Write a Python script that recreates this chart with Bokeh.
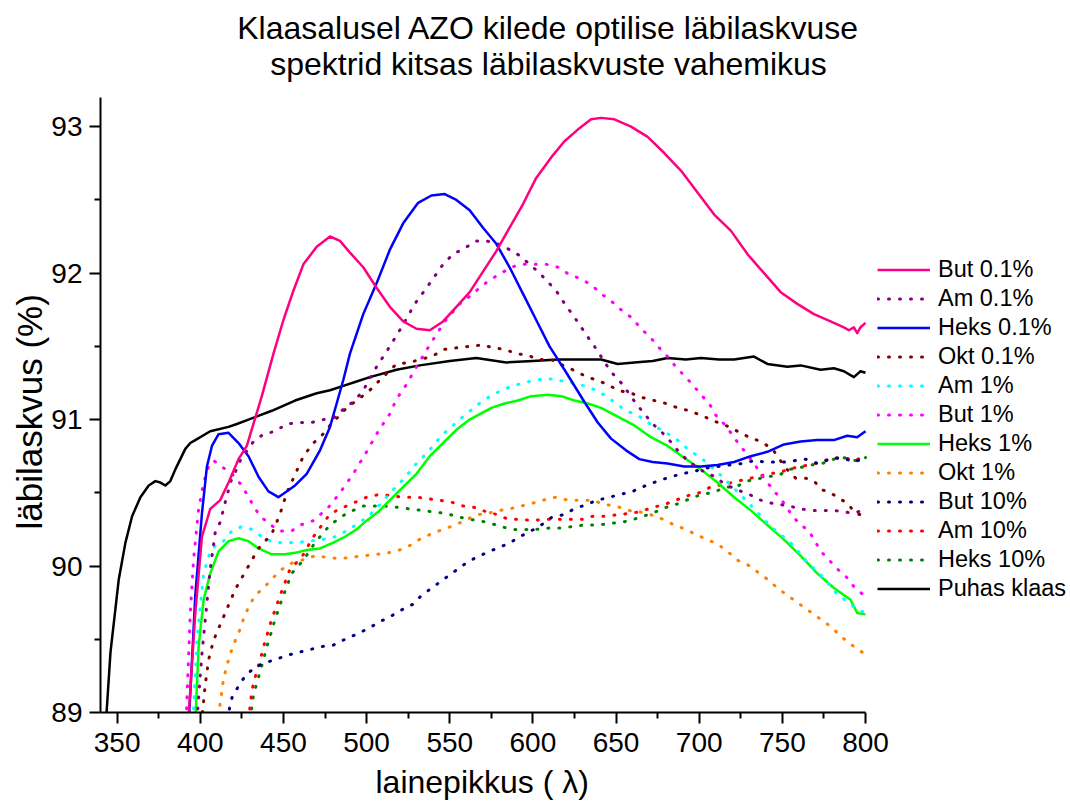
from bokeh.plotting import figure
from bokeh.models import Legend, LegendItem, Title, Label, FixedTicker, Range1d
from bokeh.embed import file_html
from bokeh.resources import INLINE

# ---------------- data ----------------
series_names = ["But 0.1%", "Am 0.1%", "Heks 0.1%", "Okt 0.1%", "Am 1%", "But 1%",
                "Heks 1%", "Okt 1%", "But 10%", "Am 10%", "Heks 10%", "Puhas klaas"]

but01_x = [392, 397, 401, 406, 412, 417, 423, 428, 433, 437, 444, 450, 456, 462, 470, 478, 484, 490, 498, 506,
           514, 522, 530, 538, 546, 554, 562, 570, 578, 586, 594, 602, 611, 619, 627, 635, 641, 649, 659, 669,
           679, 689, 699, 709, 719, 729, 739, 749, 759, 769, 779, 787, 790, 793, 795, 797, 800]
but01_y = [88.8, 89.68, 90.2, 90.39, 90.45, 90.57, 90.73, 90.82, 91.01, 91.16, 91.45, 91.68, 91.88, 92.06, 92.18, 92.25, 92.22, 92.14, 92.04, 91.9,
           91.77, 91.67, 91.62, 91.61, 91.67, 91.77, 91.87, 92.01, 92.15, 92.31, 92.47, 92.65, 92.79, 92.9, 92.98, 93.05, 93.06, 93.05, 93.0, 92.93,
           92.82, 92.7, 92.55, 92.4, 92.29, 92.13, 92.0, 91.87, 91.79, 91.72, 91.67, 91.63, 91.61, 91.63, 91.59, 91.63, 91.66]

am01_x = [397, 401, 404, 406, 409, 412, 414, 416, 419, 421, 424, 432, 438, 445, 452, 460, 467, 474, 480, 487,
          493, 498, 506, 514, 521, 529, 538, 546, 552, 559, 566, 572, 579, 586, 592, 598, 604, 609, 614, 618,
          623, 628, 632, 637, 641, 645, 649, 654, 657, 662, 667, 672, 677, 682, 687, 693, 699, 705, 710, 715,
          723, 730, 737, 743, 749, 754, 761, 768, 775, 781, 787, 793, 800]
am01_y = [88.8, 89.4, 89.75, 89.98, 90.23, 90.3, 90.39, 90.48, 90.6, 90.64, 90.72, 90.85, 90.9, 90.92, 90.97, 90.98, 90.98, 91.0, 91.01, 91.08,
          91.13, 91.2, 91.36, 91.5, 91.63, 91.79, 91.93, 92.06, 92.13, 92.17, 92.22, 92.22, 92.2, 92.16, 92.12, 92.06, 92.0, 91.94, 91.88, 91.81,
          91.73, 91.65, 91.58, 91.5, 91.43, 91.36, 91.30, 91.24, 91.19, 91.11, 91.04, 90.97, 90.92, 90.86, 90.79, 90.72, 90.67, 90.63, 90.61, 90.56,
          90.52, 90.49, 90.45, 90.43, 90.42, 90.41, 90.39, 90.38, 90.38, 90.38, 90.37, 90.36, 90.39]

heks01_x = [392.5, 397, 401, 404, 407, 411, 417, 423, 429, 435, 441, 447, 457, 464, 472, 478, 482, 486, 490, 498,
            506, 514, 522, 531, 539, 547, 554, 562, 570, 578, 586, 594, 602, 610, 619, 631, 639, 647, 656, 664,
            672, 681, 691, 701, 711, 721, 731, 741, 751, 761, 771, 781, 789, 795, 800]
heks01_y = [88.8, 89.8, 90.36, 90.68, 90.82, 90.9, 90.91, 90.84, 90.75, 90.61, 90.51, 90.47, 90.55, 90.63, 90.79, 90.95, 91.11, 91.27, 91.45, 91.72,
            91.93, 92.16, 92.34, 92.48, 92.53, 92.54, 92.5, 92.43, 92.31, 92.2, 92.04, 91.86, 91.68, 91.5, 91.34, 91.12, 90.98, 90.87, 90.79, 90.73,
            90.71, 90.70, 90.68, 90.68, 90.69, 90.71, 90.75, 90.78, 90.83, 90.85, 90.86, 90.86, 90.89, 90.88, 90.92]

okt01_x = [400, 403, 405, 407, 409, 412, 415, 418, 421, 425, 435, 443, 446, 449, 452, 456, 462, 468, 473, 478,
           483, 488, 494, 501, 508, 518, 526, 532, 539, 547, 554, 562, 570, 576, 583, 590, 597, 603, 611, 618,
           624, 631, 638, 645, 651, 659, 666, 673, 680, 687, 694, 701, 709, 716, 723, 730, 737, 744, 747, 752,
           758, 764, 769, 774, 779, 783, 789, 794, 800]
okt01_y = [88.85, 89.19, 89.36, 89.45, 89.52, 89.6, 89.68, 89.76, 89.84, 89.92, 90.12, 90.22, 90.3, 90.39, 90.5, 90.6, 90.75, 90.84, 90.89, 90.96,
           91.02, 91.08, 91.13, 91.19, 91.27, 91.38, 91.39, 91.41, 91.43, 91.48, 91.49, 91.5, 91.51, 91.49, 91.48, 91.45, 91.44, 91.41, 91.41, 91.37,
           91.34, 91.30, 91.27, 91.24, 91.20, 91.18, 91.15, 91.13, 91.11, 91.08, 91.06, 91.03, 90.99, 90.96, 90.92, 90.88, 90.85, 90.8, 90.75, 90.67,
           90.6, 90.6, 90.58, 90.52, 90.5, 90.47, 90.43, 90.36, 90.34]

am1_x = [395, 398, 402, 406, 410, 414, 419, 425, 431, 437, 444, 451, 458, 465, 473, 481, 488, 495, 502, 508,
         515, 522, 530, 537, 545, 552, 558, 570, 581, 588, 601, 609, 615, 624, 631, 638, 644, 650, 656, 663,
         669, 674, 680, 686, 692, 698, 703, 713, 721, 729, 743, 755, 764, 774, 782, 794, 800]
am1_y = [88.8, 89.5, 89.95, 90.1, 90.15, 90.17, 90.24, 90.27, 90.25, 90.2, 90.16, 90.16, 90.16, 90.17, 90.18, 90.2, 90.24, 90.29, 90.35, 90.42,
         90.51, 90.59, 90.7, 90.78, 90.89, 90.96, 91.02, 91.13, 91.2, 91.23, 91.27, 91.28, 91.27, 91.25, 91.23, 91.2, 91.16, 91.11, 91.06, 91.03,
         90.98, 90.95, 90.91, 90.87, 90.81, 90.76, 90.72, 90.62, 90.53, 90.44, 90.27, 90.16, 90.04, 89.93, 89.82, 89.71, 89.68]

but1_x = [391, 394, 396, 399, 402, 405, 408, 414, 419, 425, 432, 436, 447, 455, 460, 468, 477, 484, 492, 500,
          507, 514, 518, 524, 530, 538, 547, 556, 563, 569, 575, 581, 587, 593, 599, 608, 615, 622, 629, 635,
          641, 647, 653, 660, 665, 670, 676, 681, 686, 691, 696, 701, 706, 710, 715, 719, 724, 729, 733, 737,
          741, 746, 751, 755, 760, 766, 770, 774, 779, 784, 789, 793, 800]
but1_y = [88.8, 89.68, 90.05, 90.39, 90.57, 90.68, 90.72, 90.67, 90.63, 90.55, 90.41, 90.34, 90.24, 90.24, 90.28, 90.31, 90.4, 90.5, 90.63, 90.78,
          90.92, 91.04, 91.14, 91.24, 91.36, 91.51, 91.67, 91.79, 91.85, 91.91, 91.96, 92.0, 92.04, 92.06, 92.06, 92.06, 92.04, 91.99, 91.96, 91.92,
          91.86, 91.81, 91.75, 91.69, 91.62, 91.57, 91.49, 91.43, 91.36, 91.30, 91.24, 91.17, 91.11, 91.03, 90.97, 90.91, 90.83, 90.76, 90.70, 90.63,
          90.57, 90.5, 90.43, 90.36, 90.29, 90.24, 90.16, 90.09, 90.03, 89.97, 89.92, 89.86, 89.79]

heks1_x = [396.5, 399, 402, 406, 411, 417, 423, 429, 435, 443, 451, 457, 464, 472, 480, 487, 494, 500, 507, 514,
           522, 530, 538, 546, 554, 562, 567, 575, 583, 591, 599, 609, 617, 625, 633, 641, 651, 661, 671, 681,
           691, 701, 711, 721, 731, 741, 751, 761, 771, 781, 791, 795, 800]
heks1_y = [88.8, 89.45, 89.77, 89.95, 90.1, 90.17, 90.19, 90.17, 90.12, 90.08, 90.08, 90.09, 90.11, 90.12, 90.16, 90.2, 90.25, 90.31, 90.37, 90.45,
           90.54, 90.63, 90.75, 90.84, 90.93, 91.0, 91.03, 91.08, 91.11, 91.13, 91.16, 91.17, 91.16, 91.13, 91.11, 91.08, 91.02, 90.96, 90.88, 90.82,
           90.74, 90.66, 90.57, 90.47, 90.38, 90.28, 90.18, 90.07, 89.95, 89.85, 89.77, 89.68, 89.67]

okt1_x = [410, 414, 416, 418, 421, 424, 426, 429, 433, 438, 443, 448, 455, 461, 469, 476, 484, 491, 498, 506,
          513, 520, 526, 533, 539, 546, 553, 559, 566, 573, 580, 586, 593, 600, 606, 614, 621, 628, 636, 643,
          650, 657, 664, 671, 678, 685, 692, 699, 705, 711, 717, 723, 729, 735, 741, 747, 753, 758, 764, 769,
          775, 780, 785, 791, 795, 800]
okt1_y = [88.9, 89.23, 89.32, 89.4, 89.49, 89.57, 89.64, 89.72, 89.8, 89.85, 89.91, 89.97, 90.02, 90.04, 90.07, 90.06, 90.05, 90.06, 90.07, 90.08,
          90.09, 90.11, 90.14, 90.19, 90.22, 90.25, 90.28, 90.31, 90.35, 90.36, 90.38, 90.39, 90.41, 90.43, 90.45, 90.47, 90.45, 90.45, 90.45, 90.42,
          90.41, 90.38, 90.37, 90.35, 90.32, 90.28, 90.25, 90.21, 90.18, 90.15, 90.10, 90.04, 90.01, 89.96, 89.91, 89.85, 89.80, 89.76, 89.71, 89.67,
          89.62, 89.58, 89.52, 89.47, 89.43, 89.40]

but10_x = [416, 419, 423, 427, 433, 439, 445, 452, 459, 466, 473, 480, 487, 495, 502, 508, 515, 521, 528, 533,
           538, 544, 550, 555, 561, 568, 574, 580, 585, 592, 599, 605, 611, 618, 625, 632, 639, 646, 653, 660,
           668, 675, 683, 690, 698, 705, 718, 726, 733, 740, 751, 764, 771, 779, 786, 793, 800]
but10_y = [88.95, 89.1, 89.18, 89.25, 89.31, 89.34, 89.36, 89.39, 89.41, 89.43, 89.45, 89.46, 89.50, 89.54, 89.58, 89.62, 89.66, 89.7, 89.74, 89.8,
           89.84, 89.89, 89.94, 89.98, 90.03, 90.07, 90.1, 90.13, 90.15, 90.2, 90.24, 90.28, 90.33, 90.35, 90.39, 90.42, 90.45, 90.47, 90.49, 90.51,
           90.55, 90.58, 90.61, 90.63, 90.65, 90.67, 90.69, 90.70, 90.72, 90.71, 90.71, 90.73, 90.70, 90.73, 90.74, 90.71, 90.74]

am10_x = [429, 431, 433, 437, 439, 441, 443, 445, 448, 451, 454, 461, 468, 477, 482, 488, 500, 508, 515, 522,
          530, 537, 543, 550, 558, 565, 572, 579, 585, 592, 600, 607, 615, 622, 630, 636, 643, 651, 658, 664,
          672, 679, 686, 693, 700, 707, 720, 727, 735, 742, 749, 753, 761, 766, 773, 780, 787, 794, 800]
am10_y = [88.95, 89.15, 89.24, 89.4, 89.49, 89.56, 89.64, 89.7, 89.8, 89.89, 89.98, 90.06, 90.2, 90.34, 90.38, 90.41, 90.47, 90.49, 90.48, 90.47,
          90.47, 90.46, 90.45, 90.44, 90.41, 90.4, 90.37, 90.35, 90.32, 90.32, 90.31, 90.32, 90.32, 90.32, 90.32, 90.34, 90.34, 90.35, 90.36, 90.37,
          90.4, 90.42, 90.45, 90.48, 90.5, 90.54, 90.57, 90.59, 90.61, 90.63, 90.64, 90.66, 90.68, 90.69, 90.71, 90.74, 90.74, 90.72, 90.76]

heks10_x = [430, 432, 434, 438, 440, 442, 444, 446, 449, 452, 455, 462, 469, 478, 488, 498, 511, 519, 526, 533,
            540, 547, 554, 561, 568, 575, 581, 587, 594, 602, 610, 617, 624, 631, 639, 646, 654, 661, 669, 676,
            682, 689, 696, 703, 710, 716, 722, 729, 741, 748, 754, 760, 767, 774, 781, 787, 794, 800]
heks10_y = [88.95, 89.12, 89.2, 89.36, 89.45, 89.52, 89.6, 89.67, 89.77, 89.86, 89.95, 90.04, 90.16, 90.28, 90.36, 90.41, 90.41, 90.4, 90.39, 90.38,
            90.37, 90.36, 90.34, 90.32, 90.31, 90.29, 90.27, 90.25, 90.25, 90.25, 90.26, 90.26, 90.27, 90.28, 90.28, 90.29, 90.30, 90.32, 90.35, 90.38,
            90.41, 90.43, 90.47, 90.49, 90.51, 90.54, 90.54, 90.58, 90.61, 90.62, 90.66, 90.67, 90.69, 90.70, 90.73, 90.74, 90.72, 90.74]

klaas_x = [342.5, 346, 351, 355, 359, 364, 369, 373, 376, 379, 382, 385, 391, 394, 397, 406, 417, 422, 429, 443,
           457, 470, 478, 486, 494, 502, 518, 532, 550, 566, 584, 600, 615, 631, 641, 651, 661, 672, 681, 692,
           701, 712, 721, 733, 741, 753, 761, 773, 781, 787, 793, 797, 800]
klaas_y = [88.8, 89.41, 89.91, 90.16, 90.34, 90.47, 90.55, 90.58, 90.57, 90.55, 90.58, 90.66, 90.8, 90.84, 90.86, 90.92, 90.95, 90.97, 91.0, 91.06,
           91.13, 91.18, 91.2, 91.23, 91.26, 91.29, 91.34, 91.37, 91.40, 91.42, 91.39, 91.40, 91.41, 91.41, 91.41, 91.38, 91.39, 91.40, 91.42, 91.41,
           91.42, 91.41, 91.41, 91.43, 91.38, 91.36, 91.37, 91.34, 91.35, 91.33, 91.29, 91.33, 91.32]

x_ticks = [350, 400, 450, 500, 550, 600, 650, 700, 750, 800]
x_minor = [375, 425, 475, 525, 575, 625, 675, 725, 775]
y_ticks = [89, 90, 91, 92, 93]
y_minor = [89.5, 90.5, 91.5, 92.5]

title_lines = ["Klaasalusel AZO kilede optilise läbilaskvuse",
               "spektrid kitsas läbilaskvuste vahemikus"]
x_label = "lainepikkus ( λ)"
y_label = "läbilaskvus (%)"

# ---------------- layout (pixels) ----------------
W, H = 1070, 807
FL, FR_AXIS, FT_AXIS, FB = 100, 865, 97, 713     # axis box in canvas px
X0, X1, Y0, Y1 = 340, 800, 89, 93.2               # axis value extents
XS = (FR_AXIS - FL) / (X1 - X0)
YS = (FB - FT_AXIS) / (Y1 - Y0)
# frame extends to the right/top edges so legend & title fit inside it
x_end = X0 + (W - FL) / XS
y_end = Y1 + FT_AXIS / YS


def dx(px):
    return X0 + (px - FL) / XS


def dy(py):
    return Y0 + (FB - py) / YS


FONT = "Liberation Sans"
styles = [
    ("#FF0080", "solid"), ("#800080", "dot"), ("#0000FF", "solid"), ("#800000", "dot"),
    ("#00FFFF", "dot"), ("#FF00FF", "dot"), ("#00FF00", "solid"), ("#FF8000", "dot"),
    ("#000080", "dot"), ("#FF0000", "dot"), ("#008000", "dot"), ("#000000", "solid"),
]
xs = [but01_x, am01_x, heks01_x, okt01_x, am1_x, but1_x, heks1_x, okt1_x, but10_x, am10_x, heks10_x, klaas_x]
ys = [but01_y, am01_y, heks01_y, okt01_y, am1_y, but1_y, heks1_y, okt1_y, but10_y, am10_y, heks10_y, klaas_y]

p = figure(width=W, height=H, output_backend="svg", toolbar_location=None,
           x_range=Range1d(X0, x_end), y_range=Range1d(Y0, y_end),
           min_border_left=FL, min_border_right=0, min_border_top=0, min_border_bottom=H - FB)
p.title = None
p.outline_line_color = None
p.grid.visible = False
p.background_fill_color = "white"
p.border_fill_color = "white"

draw = {}
for i in reversed(range(len(xs))):
    col, kind = styles[i]
    if kind == "solid":
        r = p.line(xs[i], ys[i], line_color=col, line_width=2.5, line_join="round")
    else:
        r = p.line(xs[i], ys[i], line_color=col, line_width=3.0, line_dash="1 10", line_cap="round")
    draw[i] = r
renderers = [draw[i] for i in range(len(xs))]

for ax in (p.xaxis[0], p.yaxis[0]):
    ax.axis_line_width = 2
    ax.axis_line_color = "black"
    ax.major_tick_line_width = 2
    ax.minor_tick_line_width = 2
    ax.major_tick_in = 0
    ax.major_tick_out = 11
    ax.minor_tick_in = 0
    ax.minor_tick_out = 6
    ax.major_label_text_font = FONT
    ax.major_label_text_font_size = "28px"
    ax.major_label_text_color = "black"

p.xaxis.bounds = (X0, X1)
p.yaxis.bounds = (Y0, Y1)
p.xaxis.ticker = FixedTicker(ticks=x_ticks, minor_ticks=x_minor)
p.yaxis.ticker = FixedTicker(ticks=y_ticks, minor_ticks=y_minor)
p.xaxis.major_label_standoff = 9
p.yaxis.major_label_standoff = 7

# axis titles as Title panels so they are centred on the drawn axes (not the whole frame)
p.add_layout(Title(text=x_label, align="left", offset=275, standoff=15,
                   text_font=FONT, text_font_size="32px", text_font_style="normal",
                   text_line_height=1.0, text_color="black"), "below")
p.add_layout(Title(text=y_label, align="left", offset=FB - 530, standoff=0,
                   text_font=FONT, text_font_size="35px", text_font_style="normal",
                   text_line_height=1.0, text_color="black"), "left")

items = [LegendItem(label=series_names[i], renderers=[renderers[i]]) for i in range(len(xs))]
legend = Legend(items=items, location=(877 - FL, FB - 604), orientation="vertical",
                label_text_font=FONT, label_text_font_size="23.5px", label_text_color="black",
                glyph_width=53, glyph_height=29, label_height=29, label_standoff=8,
                spacing=0, padding=0, margin=0,
                border_line_color=None, background_fill_alpha=0)
p.add_layout(legend, "center")

for t, cy in zip(title_lines, (28, 64)):
    p.add_layout(Label(x=dx(548), y=dy(cy), text=t, text_align="center", text_baseline="middle",
                       text_font=FONT, text_font_size="32px", text_color="black"))

open("out.html", "w").write(file_html(p, INLINE))
